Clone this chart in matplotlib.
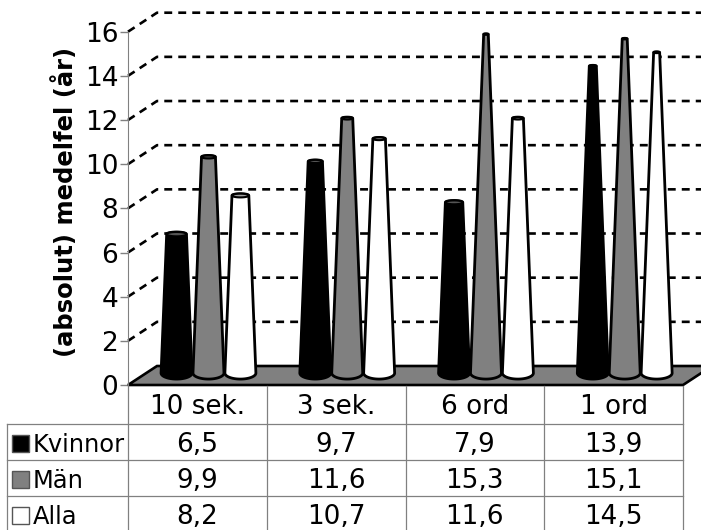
import numpy as np
import matplotlib
matplotlib.use("Agg")
import matplotlib.pyplot as plt
from matplotlib.patches import Polygon, Rectangle

categories = ["10 sek.", "3 sek.", "6 ord", "1 ord"]
series_names = ["Kvinnor", "Män", "Alla"]
kvinnor = [6.5, 9.7, 7.9, 13.9]
man = [9.9, 11.6, 15.3, 15.1]
alla = [8.2, 10.7, 11.6, 14.5]
value_labels = [["6,5", "9,7", "7,9", "13,9"],
                ["9,9", "11,6", "15,3", "15,1"],
                ["8,2", "10,7", "11,6", "14,5"]]

W, H = 701, 530
GREY = "#808080"
# axes size in px -> data units
PX_X = 1 / 138.75
PX_Y = 1 / 22.08
DEPTH_X = 29 * PX_X
DEPTH_Y = 19 * PX_Y

fig = plt.figure(figsize=(W / 100, H / 100), dpi=100)
ax = fig.add_axes([128 / W, 1 - 385 / H, 555 / W, 353.3 / H])
ax.set_xlim(0, 4)
ax.set_ylim(0, 16)
ax.set_xticks([])
ax.set_yticks(range(0, 17, 2))
ax.tick_params(axis="y", labelsize=19, length=6, width=1, color=GREY, pad=1)
for s in ["top", "right", "bottom"]:
    ax.spines[s].set_visible(False)
ax.spines["left"].set_color(GREY)
ax.patch.set_visible(False)

# dashed grid on the side and back wall
for v in range(2, 17, 2):
    ax.plot([0, DEPTH_X, 4 + DEPTH_X], [v, v + DEPTH_Y, v + DEPTH_Y], color="black",
            lw=1.9, ls=(0, (3, 2.3)), clip_on=False, zorder=1)

# floor
ax.add_patch(Polygon([(0, 0), (4, 0), (4 + DEPTH_X, DEPTH_Y), (DEPTH_X, DEPTH_Y)],
                     closed=True, fc=GREY, ec="black", lw=1.9, clip_on=False, zorder=2))


def cone(xc, value, face, top_face, z):
    r0 = 15.5 * PX_X
    r1 = r0 * (1 - value / 18)
    base = 0.54
    ry0 = 6 * PX_Y
    ry1 = r1 / PX_X * 0.22 * PX_Y
    top = 0.3 + 1.02 * value - ry1
    t = np.linspace(np.pi, 2 * np.pi, 30)
    bottom = np.column_stack([xc + r0 * np.cos(t), base + ry0 * np.sin(t)])
    upper = np.column_stack([xc + r1 * np.cos(t[::-1]), top - ry1 * np.sin(t)])
    ax.add_patch(Polygon(np.vstack([bottom, upper]), closed=True, fc=face, ec="black",
                         lw=2, joinstyle="round", clip_on=False, zorder=z))
    t2 = np.linspace(0, 2 * np.pi, 40)
    ax.add_patch(Polygon(np.column_stack([xc + r1 * np.cos(t2), top + ry1 * np.sin(t2)]),
                         closed=True, fc=top_face, ec="black", lw=1.5, clip_on=False, zorder=z))


offsets = [0.35, 0.58, 0.81]
styles = [("black", "#555555", 4), (GREY, "#505050", 3), ("white", "#a0a0a0", 5)]
for vals, off, st in zip([kvinnor, man, alla], offsets, styles):
    for i, v in enumerate(vals):
        cone(i + off, v, st[0], st[1], st[2])

fig.text(65 / W, 1 - 202 / H, "(absolut) medelfel (år)", rotation=90, ha="center",
         va="center", fontsize=17.5, fontweight="bold")

# data table below the plot
tb = fig.add_axes([128 / W, 1 - 532 / H, 555 / W, 146 / H])
tb.set_xlim(0, 4)
tb.set_ylim(146, 0)
tb.axis("off")
rows = [0, 38, 74, 110, 146]
left = -121 * PX_X
for y in rows[1:-1]:
    tb.plot([left, 4], [y, y], color=GREY, lw=0.9, clip_on=False)
for x in range(5):
    tb.plot([x, x], [0, 146], color=GREY, lw=0.9, clip_on=False)
tb.plot([left, left], [38, 146], color=GREY, lw=0.9, clip_on=False)

for i, c in enumerate(categories):
    tb.text(i + 0.5, 21, c, ha="center", va="center", fontsize=18.9)
faces = ["black", GREY, "white"]
for r, name in enumerate(series_names):
    yc = (rows[r + 1] + rows[r + 2]) / 2
    tb.add_patch(Rectangle((-116 * PX_X, yc - 7), 17 * PX_X, 17, fc=faces[r], ec="#555555",
                           lw=1, clip_on=False))
    tb.text(-95 * PX_X, yc + 3, name, ha="left", va="center", fontsize=17.4, clip_on=False)
    for i in range(4):
        tb.text(i + 0.5, yc + 3, value_labels[r][i], ha="center", va="center", fontsize=18.9)

fig.savefig("out.png", dpi=100)
